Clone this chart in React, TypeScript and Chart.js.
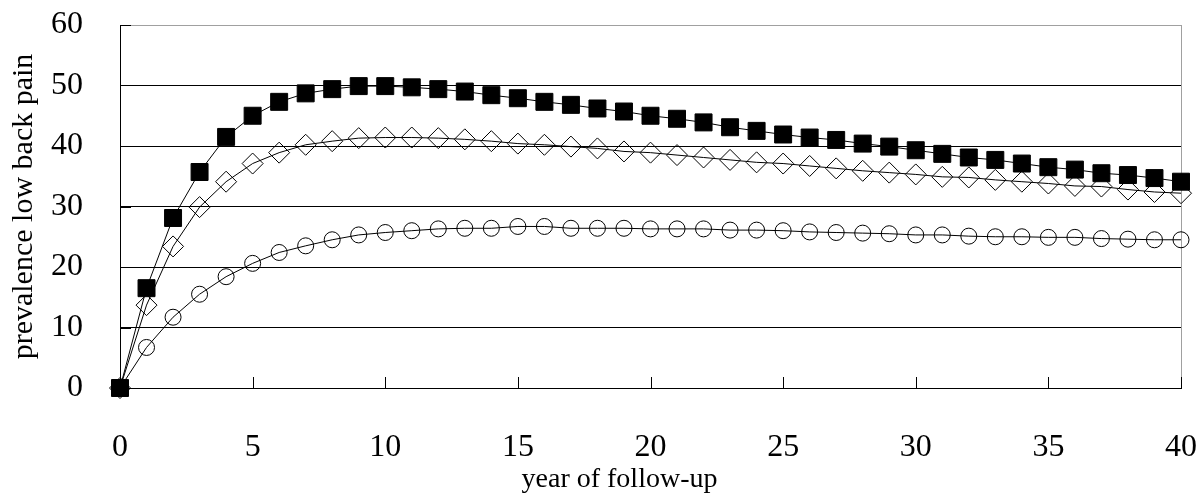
import React, { useEffect, useRef } from "react";
import { Chart, registerables } from "chart.js";

Chart.register(...registerables);

const years = Array.from({ length: 41 }, (_, i) => i);

const seriesSquares = [
  0, 16.5, 28.1, 35.7, 41.5, 45.0, 47.3, 48.7, 49.4, 49.9, 49.9, 49.7, 49.4, 49.0, 48.4,
  47.9, 47.3, 46.8, 46.2, 45.7, 45.0, 44.5, 43.9, 43.1, 42.5, 41.9, 41.4, 41.0, 40.4,
  39.9, 39.3, 38.7, 38.1, 37.7, 37.1, 36.5, 36.1, 35.5, 35.2, 34.7, 34.1,
];

const seriesDiamonds = [
  0, 13.7, 23.4, 29.9, 34.1, 37.1, 38.9, 40.2, 40.8, 41.3, 41.4, 41.4, 41.3, 41.1, 40.8,
  40.4, 40.2, 39.9, 39.6, 39.1, 38.9, 38.5, 38.1, 37.7, 37.3, 37.1, 36.7, 36.3, 35.9,
  35.6, 35.3, 34.9, 34.8, 34.4, 34.1, 33.8, 33.4, 33.3, 32.8, 32.4, 32.2,
];

const seriesCircles = [
  0, 6.7, 11.7, 15.5, 18.4, 20.6, 22.4, 23.5, 24.5, 25.3, 25.7, 26.0, 26.3, 26.4, 26.4,
  26.7, 26.7, 26.4, 26.4, 26.4, 26.3, 26.3, 26.3, 26.1, 26.1, 26.0, 25.8, 25.7, 25.6,
  25.5, 25.3, 25.3, 25.1, 25.0, 25.0, 24.9, 24.9, 24.7, 24.6, 24.5, 24.5,
];

const xTicks = [0, 5, 10, 15, 20, 25, 30, 35, 40];
const yTicks = [0, 10, 20, 30, 40, 50, 60];

const xTitle = "year of follow-up";
const yTitle = "prevalence low back pain";

const FONT = "'Liberation Serif', 'Times New Roman', serif";

const framePlugin = {
  id: "frame",
  beforeDatasetsDraw(chart: any) {
    const { ctx, chartArea, scales } = chart;
    const xs = scales.x;
    const ys = scales.y;
    ctx.save();
    ctx.strokeStyle = "#a0a0a0";
    ctx.lineWidth = 1;
    ctx.beginPath();
    ctx.moveTo(chartArea.right + 0.5, chartArea.top);
    ctx.lineTo(chartArea.right + 0.5, chartArea.bottom);
    ctx.stroke();
    ctx.strokeStyle = "#000";
    ctx.beginPath();
    xTicks.forEach((v) => {
      if (v === 0) return;
      const px = Math.round(xs.getPixelForValue(v)) + 0.5;
      ctx.moveTo(px, chartArea.bottom);
      ctx.lineTo(px, chartArea.bottom - 11);
    });
    yTicks.forEach((v) => {
      const py = Math.round(ys.getPixelForValue(v)) + 0.5;
      ctx.moveTo(chartArea.left, py);
      ctx.lineTo(chartArea.left + 11, py);
    });
    ctx.stroke();
    ctx.restore();
  },
  afterDraw(chart: any) {
    const { ctx, chartArea } = chart;
    ctx.save();
    ctx.fillStyle = "#000";
    ctx.font = `28px ${FONT}`;
    ctx.textAlign = "center";
    ctx.textBaseline = "alphabetic";
    const cx = (chartArea.left + chartArea.right) / 2 - 31;
    ctx.fillText(xTitle, cx, chart.height - 7);
    ctx.restore();
  },
};

export default function App() {
  const ref = useRef<HTMLCanvasElement | null>(null);

  useEffect(() => {
    if (!ref.current) return;
    const chart = new Chart(ref.current, {
      type: "line",
      data: {
        labels: years,
        datasets: [
          {
            label: "squares",
            data: years.map((x, i) => ({ x, y: seriesSquares[i] })),
            borderColor: "#000",
            borderWidth: 1,
            backgroundColor: "#000",
            pointStyle: "rect",
            pointRadius: 12,
            pointBorderWidth: 1,
            pointBackgroundColor: "#000",
            pointBorderColor: "#000",
            tension: 0,
            clip: false,
          },
          {
            label: "diamonds",
            data: years.map((x, i) => ({ x, y: seriesDiamonds[i] })),
            borderColor: "#000",
            borderWidth: 1,
            backgroundColor: "#fff",
            pointStyle: "rectRot",
            pointRadius: 10.5,
            pointBorderWidth: 1,
            pointBackgroundColor: "rgba(255,255,255,0)",
            pointBorderColor: "#000",
            tension: 0,
            clip: false,
          },
          {
            label: "circles",
            data: years.map((x, i) => ({ x, y: seriesCircles[i] })),
            borderColor: "#000",
            borderWidth: 1,
            backgroundColor: "#fff",
            pointStyle: "circle",
            pointRadius: 8,
            pointBorderWidth: 1,
            pointBackgroundColor: "rgba(255,255,255,0)",
            pointBorderColor: "#000",
            tension: 0,
            clip: false,
          },
        ],
      },
      options: {
        responsive: false,
        animation: false,
        layout: { padding: { left: 0, right: 20, top: 25, bottom: 0 } },
        plugins: {
          legend: { display: false },
          tooltip: { enabled: false },
        },
        scales: {
          x: {
            type: "linear",
            min: 0,
            max: 40,
            afterBuildTicks: (s: any) => {
              s.ticks = xTicks.map((v) => ({ value: v }));
            },
            afterFit: (s: any) => {
              s.height = 106;
              s.paddingLeft = 0;
              s.paddingRight = 0;
            },
            grid: { display: true, drawOnChartArea: false, drawTicks: false },
            border: { display: true, color: "#000", width: 1 },
            ticks: {
              color: "#000",
              font: { family: FONT, size: 32 },
              padding: 40,
              maxRotation: 0,
              autoSkip: false,
            },
          },
          y: {
            type: "linear",
            min: 0,
            max: 60,
            afterBuildTicks: (s: any) => {
              s.ticks = yTicks.map((v) => ({ value: v }));
            },
            afterFit: (s: any) => {
              s.width = 120;
              s.paddingTop = 0;
              s.paddingBottom = 0;
            },
            grid: {
              drawTicks: false,
              color: (c: any) => (c.tick && c.tick.value === 60 ? "#a0a0a0" : "#000"),
              lineWidth: 1,
            },
            border: { display: true, color: "#000", width: 1 },
            ticks: {
              color: "#000",
              font: { family: FONT, size: 32 },
              padding: 37,
            },
            title: {
              display: true,
              text: yTitle,
              color: "#000",
              font: { family: FONT, size: 30 },
              padding: { top: 6, bottom: 0 },
            },
          },
        },
      },
      plugins: [framePlugin],
    });
    return () => chart.destroy();
  }, []);

  return (
    <div style={{ position: "absolute", left: 0, top: 0, width: 1201, height: 494, background: "#fff" }}>
      <canvas ref={ref} width={1201} height={494} style={{ width: 1201, height: 494 }} />
    </div>
  );
}
